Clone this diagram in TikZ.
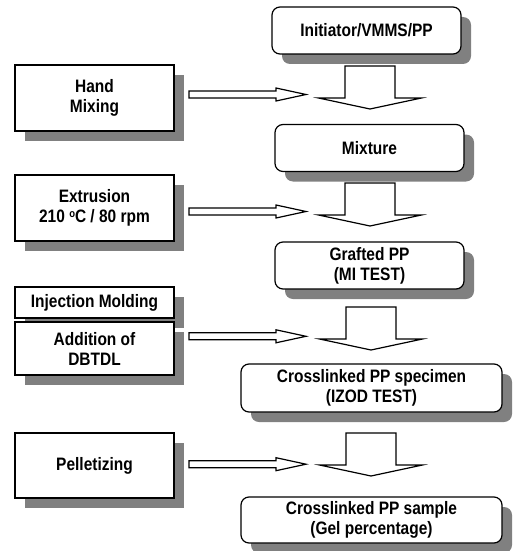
\documentclass[tikz,border=0pt]{standalone}
\usepackage{fontspec}
\setmainfont{Liberation Sans}[FakeStretch=0.86]
\usetikzlibrary{shadows}

\begin{document}
\begin{tikzpicture}[x=1pt,y=-1pt,
  every node/.style={font=\fontsize{18}{20}\selectfont\bfseries, align=center, inner sep=0pt},
  stepbox/.style={draw, line width=1.2pt, fill=white, minimum width=159pt,
    drop shadow={shadow xshift=10pt, shadow yshift=-10pt, fill=black!50, opacity=1}},
  resultbox/.style={stepbox, rounded corners=8pt},
  blockarrow/.style={draw, line width=1.2pt, fill=white, line join=miter}]
\useasboundingbox (0,0) rectangle (514,551);

% process flow (right column)
\node[resultbox, minimum width=189pt, minimum height=47pt] (init) at (366.5,30.5) {Initiator/VMMS/PP};
\node[resultbox, minimum width=189pt, minimum height=47pt] (mix) at (369.5,148) {Mixture};
\node[resultbox, minimum width=189pt, minimum height=47pt] (graft) at (369.5,265.5) {Grafted PP\\(MI TEST)};
\node[resultbox, minimum width=261pt, minimum height=48pt] (spec) at (371.5,388) {Crosslinked PP specimen\\(IZOD TEST)};
\node[resultbox, minimum width=261pt, minimum height=46pt] (sample) at (371.5,520) {Crosslinked PP sample\\(Gel percentage)};

% steps (left column)
\node[stepbox, minimum height=66pt] (hand) at (94.5,98) {Hand\\Mixing};
\node[stepbox, minimum height=66pt] (extr) at (94.5,208) {Extrusion\\210 {\fontsize{11}{11}\selectfont\raisebox{5pt}{o}}C / 80 rpm};
\node[stepbox, minimum height=31pt] (inject) at (94.5,302.5) {Injection Molding};
\node[stepbox, minimum height=53pt] (dbtdl) at (94.5,348.5) {Addition of\\DBTDL};
\node[stepbox, minimum height=65pt] (pellet) at (94.5,465.5) {Pelletizing};

% down arrows
\coordinate (d1) at (370,66);
\coordinate (d2) at (370,183);
\coordinate (d3) at (371,307);
\coordinate (d4) at (371,433);
\foreach \i in {1,...,4}
{\draw[blockarrow, shift={(d\i)}] (-25,0) -- (25,0) -- (25,32) -- (51.5,32) -- (0,43)
  -- (-51.5,32) -- (-25,32) -- cycle;}

% right arrows
\coordinate (r1) at (189,94.5);
\coordinate (r2) at (189,211.5);
\coordinate (r3) at (189,336.3);
\coordinate (r4) at (189,464.2);
\foreach \i in {1,...,4}
{\draw[blockarrow, shift={(r\i)}] (0,-3.5) -- (87,-3.5) -- (87,-6.5) -- (117,0) -- (87,6.5)
  -- (87,3.5) -- (0,3.5) -- cycle;}

\end{tikzpicture}
\end{document}
